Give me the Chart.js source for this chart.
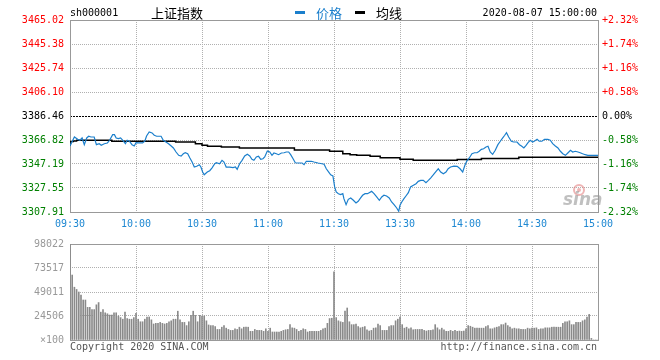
<!DOCTYPE html>
<html lang="zh-CN">
<head>
<meta charset="utf-8">
<title>上证指数 分时</title>
<script src="https://cdn.jsdelivr.net/npm/chart.js@4/dist/chart.umd.min.js"></script>
<style>
  html, body { margin: 0; padding: 0; background: #fff; }
  #wrap { position: relative; width: 660px; height: 360px; overflow: hidden; }
  #priceChart { position: absolute; left: 0; top: 0; }
  #volumeChart { position: absolute; left: 0; top: 232px; }
</style>
</head>
<body>
<div id="wrap">
  <canvas id="priceChart" width="660" height="232"></canvas>
  <canvas id="volumeChart" width="660" height="128"></canvas>
</div>
<script>
// ----------------------------------------------------------
// 数据：上证指数 2020-08-07 分时（分钟序号 0 = 09:30，120 = 11:30/13:00，240 = 15:00）
// ----------------------------------------------------------
const prevClose = 3386.46;

const priceTicks = [3307.91, 3327.55, 3347.19, 3366.82, 3386.46, 3406.10, 3425.74, 3445.38, 3465.02];
const pctLabels = ["-2.32%", "-1.74%", "-1.16%", "-0.58%", "0.00%", "+0.58%", "+1.16%", "+1.74%", "+2.32%"];

const timeTicks = [0, 30, 60, 90, 120, 150, 180, 210, 240];
const timeLabels = ["09:30", "10:00", "10:30", "11:00", "11:30", "13:30", "14:00", "14:30", "15:00"];

const volumeTicks = [0, 24506, 49011, 73517, 98022];

// 价格
const priceMinutes = [
  0, 2, 3.5, 4.5, 5.5, 6.5, 7.6, 8.5, 9.5, 11, 12, 13.3, 14.2, 15.6, 17, 18, 19.4, 20.2, 21, 22,
  23, 24, 25.2, 26, 27, 28.2, 29.2, 30, 31, 33, 34, 34.8, 36, 37.3, 38.3, 39.4, 41.4, 42.4, 43.6, 44.8,
  46, 47, 48.2, 49.4, 50.5, 51.5, 52.4, 53.5, 54.5, 55.5, 56.5, 57.6, 58.8, 59.5, 60.3, 61,
  62.4, 63.5, 64.5, 65.8, 66.5, 68, 69.1, 70, 71, 72.6, 74.1, 75.2, 76, 77.1, 78.2, 79.4, 80.6, 81.7, 82.7, 83.6,
  84.7, 85.7, 86.7, 87.7, 88.5, 89.7, 90.8, 91.8, 92.7, 93.8, 94.8, 96.1, 97.3, 98.3, 99.4, 100.3, 101.4, 102.4, 103.6, 105.5,
  106.4, 107.4, 109.7, 110.9, 112.7, 114.5, 115.5, 116.5, 117.6, 118.5, 119.5, 120.3, 121,
  122, 123, 124, 124.5, 125.5, 126.5, 127.6, 128.8, 130, 131, 132.1, 133, 134.1, 135.2, 136, 137.1, 138.2, 139.4, 140.6, 141.7,
  142.7, 143.9, 145.1, 146.2, 147.3, 148.5, 149.4, 150, 150.8, 151.8, 152.7, 153.8, 154.8, 156.1, 157.3, 158.3, 159.4, 160.6, 161.8, 162.9,
  163.9, 165.2, 166.4, 167.4, 168.5, 169.7, 170.9, 171.9, 173, 174.5, 176, 177.3, 178.5, 179.5, 180.3, 181.5,
  182.7, 183.9, 185, 186, 187, 188, 189.1, 190, 191, 192.1, 193.3, 194.5, 195.6, 196.7, 197.6, 198.4, 199.4, 200.6, 201.7, 203.2,
  204.3, 205.2, 206.3, 207.3, 208.2, 209.2, 210.3, 211.2, 212.3, 213.3, 214.5, 215.7, 217.2, 218.3, 219.4, 220.6, 221.8, 222.9, 224, 225.2,
  226.4, 227.5, 228.5, 229.7, 230.9, 231.9, 233, 234.2, 235.4, 240
];
const priceValues = [
  3362.0, 3369.3, 3367.4, 3366.6, 3368.5, 3363.0, 3368.5, 3369.9, 3369.3, 3369.3, 3363.0, 3363.8, 3362.5, 3363.8, 3364.4, 3366.6, 3371.2, 3371.2, 3368.5, 3367.9,
  3368.5, 3366.6, 3363.8, 3366.6, 3365.8, 3363.0, 3361.9, 3364.6, 3364.4, 3364.4, 3365.8, 3370.1, 3373.4, 3372.6, 3370.7, 3369.9, 3369.9, 3366.6, 3365.2, 3363.8,
  3361.9, 3360.3, 3357.0, 3354.3, 3353.7, 3355.6, 3356.4, 3355.6, 3352.1, 3348.8, 3344.7, 3345.3, 3346.6, 3344.7, 3340.6, 3338.4,
  3340.6, 3341.7, 3343.9, 3347.4, 3348.2, 3347.4, 3350.2, 3348.8, 3344.7, 3344.7, 3344.2, 3344.7, 3342.8, 3347.4, 3350.2, 3353.7, 3355.1, 3353.7, 3351.0, 3350.2,
  3352.9, 3353.5, 3351.0, 3351.5, 3352.9, 3357.8, 3357.0, 3354.3, 3356.2, 3355.6, 3354.8, 3356.2, 3356.4, 3357.0, 3357.0, 3354.8, 3351.5, 3348.2, 3348.0, 3348.0,
  3346.6, 3349.4, 3349.4, 3348.8, 3348.0, 3347.4, 3347.0, 3343.3, 3340.6, 3338.4, 3337.4, 3328.4, 3324.3,
  3322.9, 3322.1, 3322.9, 3318.8, 3313.9, 3318.3, 3319.4, 3317.5, 3315.3, 3316.7, 3319.4, 3321.6, 3322.9, 3322.9, 3323.7, 3324.8, 3322.9, 3320.2, 3317.5, 3320.2,
  3321.6, 3321.0, 3319.4, 3316.1, 3313.9, 3311.2, 3308.5, 3313.4, 3316.1, 3318.8, 3321.0, 3323.7, 3328.4, 3329.8, 3331.1, 3333.0, 3333.8, 3333.8, 3331.9, 3333.8,
  3335.7, 3338.4, 3341.2, 3343.3, 3340.6, 3339.2, 3340.6, 3343.3, 3344.7, 3345.5, 3345.3, 3343.3, 3340.6, 3346.1, 3349.4, 3352.1,
  3355.6, 3356.4, 3356.4, 3357.6, 3359.2, 3359.7, 3361.1, 3361.7, 3357.0, 3355.1, 3358.4, 3363.0, 3365.8, 3368.5, 3370.7, 3372.8, 3369.3, 3365.8, 3365.2, 3365.2,
  3363.0, 3361.9, 3360.3, 3362.5, 3364.6, 3366.6, 3365.2, 3366.0, 3367.4, 3365.8, 3365.8, 3367.4, 3367.4, 3366.6, 3363.8, 3361.9, 3360.3, 3357.6, 3355.6, 3354.3,
  3356.4, 3358.4, 3357.0, 3357.6, 3357.0, 3356.4, 3355.6, 3354.8, 3354.3, 3354.3
];

// 均线（阶梯变化点）
const avgMinutes = [0, 1.5, 3, 19, 48, 57, 60, 62.5, 68.8, 77, 102, 118, 124, 127.3, 130.3, 136.4, 141, 150, 156, 176, 187, 204, 223, 240];
const avgValues = [3362.0, 3365.5, 3366.0, 3366.6, 3365.8, 3365.2, 3363.8, 3362.5, 3361.7, 3361.1, 3360.3, 3358.6, 3357.6, 3355.6, 3354.8, 3354.3, 3353.5, 3352.3, 3351.0, 3350.3, 3350.9, 3351.7, 3352.7, 3352.7];

// 成交量（每分钟一根，单位 手×100）
const volumeValues = [
  98022, 66328, 53912, 51625, 49011, 45744, 40843, 40843, 33327, 33327, 31040, 31040, 35941, 38229, 28426, 31040, 27773, 26793, 25486, 25486,
  27773, 27773, 24506, 22872, 21238, 28426, 21892, 21238, 21238, 22872, 27119, 21238, 18624, 18624, 21238, 23525, 23525, 20585, 16337, 16990,
  16990, 17971, 16990, 16337, 16990, 18624, 19604, 21238, 21238, 29407, 20585, 17971, 17971, 14703, 18624, 25159, 29407, 25159, 18624, 25159,
  24506, 24506, 19604, 15357, 14703, 14703, 13723, 10782, 10782, 13070, 14703, 12089, 10782, 9802, 9802, 11436, 10782, 13070, 11436, 13070,
  13070, 13070, 8822, 8822, 10782, 9802, 9802, 9802, 8822, 11436, 8822, 12089, 8169, 8169, 8169, 8169, 8822, 9802, 10456, 10782,
  15684, 12416, 12089, 10782, 8822, 9802, 11436, 10782, 8169, 8822, 8822, 8822, 8822, 8822, 9802, 11436, 12089, 16990, 21892, 22218,
  69596, 22872, 19604, 18624, 17971, 29407, 32674, 18624, 15684, 15684, 16337, 13723, 12416, 13070, 13723, 10456, 9149, 9802, 12089, 12416,
  16337, 14703, 9802, 9802, 9802, 13723, 14703, 14703, 19604, 21238, 23525, 15684, 12089, 13070, 11436, 12416, 10456, 10782, 10782, 10782,
  10782, 9802, 9149, 9802, 9802, 10456, 15684, 12416, 10456, 12089, 10456, 8822, 8822, 9802, 8822, 9802, 8822, 9149, 8822, 9149,
  11436, 14703, 14050, 13070, 12089, 12089, 12089, 12089, 12089, 13723, 14703, 11436, 11436, 12416, 13070, 13723, 15684, 15684, 17317, 14703,
  13070, 11436, 12089, 11436, 11436, 10782, 10782, 10782, 12089, 11436, 12089, 12089, 12416, 10782, 11436, 11436, 12416, 12416, 12416, 13070,
  13070, 13070, 13070, 13070, 16990, 18624, 18624, 19604, 15684, 15684, 17971, 17971, 17971, 19604, 20585, 23525, 26139, 1634, 0, 0,
  0
];

// ----------------------------------------------------------
// 样式
// ----------------------------------------------------------
const MONO = "'DejaVu Sans Mono', 'Liberation Mono', monospace";
const CJK = "'Noto Sans CJK SC', sans-serif";
const RED = "#ff0000";
const GREEN = "#008000";
const BLUE = "#1b7fcc";
const TIME_BLUE = "#1e88d2";
const GRID_COLOR = "#b0b0b0";
const FRAME_COLOR = "#999999";
const VOL_COLOR = "#8a8a8a";

Chart.defaults.font.family = MONO;
Chart.defaults.font.size = 10;

function isPrevClose(v) {
    return Math.abs(v - prevClose) < 0.001;
}

function priceColor(v) {
    if (isPrevClose(v)) return "#000";
    return v > prevClose ? RED : GREEN;
}

function toPoints(xs, ys) {
    return xs.map((x, i) => ({ x: x, y: ys[i] }));
}

// 外框
const framePlugin = {
    id: "frame",
    beforeDatasetsDraw(chart) {
        const a = chart.chartArea;
        const ctx = chart.ctx;
        ctx.save();
        ctx.strokeStyle = FRAME_COLOR;
        ctx.lineWidth = 1;
        ctx.strokeRect(Math.round(a.left) + 0.5, Math.round(a.top) + 0.5,
            Math.round(a.right - a.left), Math.round(a.bottom - a.top));
        ctx.restore();
    }
};

// 标题、图例、时间、水印
const headerPlugin = {
    id: "header",
    afterDraw(chart) {
        const ctx = chart.ctx;
        const y = 13;
        ctx.save();
        ctx.textBaseline = "middle";

        ctx.fillStyle = "#000";
        ctx.font = "10px " + MONO;
        ctx.textAlign = "left";
        ctx.fillText("sh000001", 70, y);

        ctx.font = "13px " + CJK;
        ctx.fillText("上证指数", 151, y);

        // 图例
        const legendX = [295, 355];
        [0, 1].forEach((i, k) => {
            const ds = chart.data.datasets[i];
            ctx.fillStyle = ds.borderColor;
            ctx.fillRect(legendX[k], y - 2, 10, 3);
            ctx.font = "13px " + CJK;
            ctx.fillText(ds.label, legendX[k] + 21, y);
        });

        ctx.fillStyle = "#000";
        ctx.font = "10px " + MONO;
        ctx.textAlign = "right";
        ctx.fillText("2020-08-07 15:00:00", 597, y);

        // 新浪水印
        ctx.strokeStyle = "rgba(225, 120, 120, 0.55)";
        ctx.lineWidth = 2;
        ctx.beginPath();
        ctx.arc(579, 190, 5, 0, Math.PI * 2);
        ctx.stroke();
        ctx.fillStyle = "rgba(225, 120, 120, 0.55)";
        ctx.beginPath();
        ctx.arc(579, 190, 2, 0, Math.PI * 2);
        ctx.fill();
        ctx.fillStyle = "rgba(150, 150, 150, 0.6)";
        ctx.font = "italic bold 17px 'DejaVu Sans', sans-serif";
        ctx.textAlign = "left";
        ctx.fillText("sina", 563, 201);
        ctx.restore();
    }
};

const footerPlugin = {
    id: "footer",
    afterDraw(chart) {
        const ctx = chart.ctx;
        ctx.save();
        ctx.fillStyle = "#555";
        ctx.font = "10px " + MONO;
        ctx.textBaseline = "middle";
        ctx.textAlign = "left";
        ctx.fillText("Copyright 2020 SINA.COM", 70, 115);
        ctx.textAlign = "right";
        ctx.fillText("http://finance.sina.com.cn", 597, 115);
        ctx.restore();
    }
};

// ----------------------------------------------------------
// 分时价格图
// ----------------------------------------------------------
function renderPriceChart() {
    const ctx = document.getElementById("priceChart").getContext("2d");
    return new Chart(ctx, {
        type: "line",
        data: {
            datasets: [
                {
                    label: "价格",
                    data: toPoints(priceMinutes, priceValues),
                    borderColor: BLUE,
                    borderWidth: 1.2,
                    pointRadius: 0,
                    tension: 0,
                    fill: false
                },
                {
                    label: "均线",
                    data: toPoints(avgMinutes, avgValues),
                    borderColor: "#000",
                    borderWidth: 1.5,
                    pointRadius: 0,
                    stepped: "after",
                    fill: false
                }
            ]
        },
        options: {
            responsive: false,
            animation: false,
            devicePixelRatio: 1,
            layout: { padding: { top: 20, left: 0, right: 0, bottom: 0 } },
            plugins: { legend: { display: false }, tooltip: { enabled: false } },
            scales: {
                x: {
                    type: "linear",
                    min: 0,
                    max: 240,
                    afterBuildTicks: (s) => { s.ticks = timeTicks.map(v => ({ value: v })); },
                    afterFit: (s) => { s.height = 20; },
                    grid: { color: GRID_COLOR, drawTicks: false },
                    border: { display: false, dash: [1, 1] },
                    ticks: {
                        autoSkip: false,
                        maxRotation: 0,
                        padding: 6,
                        color: TIME_BLUE,
                        callback: (v, i) => timeLabels[i]
                    }
                },
                y: {
                    position: "left",
                    min: priceTicks[0],
                    max: priceTicks[priceTicks.length - 1],
                    afterBuildTicks: (s) => { s.ticks = priceTicks.map(v => ({ value: v })); },
                    afterFit: (s) => { s.width = 70; },
                    grid: {
                        drawTicks: false,
                        color: (c) => isPrevClose(c.tick.value) ? "transparent" : GRID_COLOR
                    },
                    border: { display: false, dash: [1, 1] },
                    ticks: {
                        autoSkip: false,
                        padding: 6,
                        color: (c) => priceColor(c.tick.value),
                        callback: (v) => v.toFixed(2)
                    }
                },
                yPct: {
                    position: "right",
                    min: priceTicks[0],
                    max: priceTicks[priceTicks.length - 1],
                    afterBuildTicks: (s) => { s.ticks = priceTicks.map(v => ({ value: v })); },
                    afterFit: (s) => { s.width = 62; },
                    // 昨收线
                    grid: {
                        drawTicks: false,
                        color: (c) => isPrevClose(c.tick.value) ? "#000" : "transparent"
                    },
                    border: { display: false, dash: [2, 1] },
                    ticks: {
                        autoSkip: false,
                        padding: 4,
                        color: (c) => priceColor(c.tick.value),
                        callback: (v, i) => pctLabels[i]
                    }
                }
            }
        },
        plugins: [framePlugin, headerPlugin]
    });
}

// ----------------------------------------------------------
// 成交量图
// ----------------------------------------------------------
function renderVolumeChart() {
    const ctx = document.getElementById("volumeChart").getContext("2d");
    return new Chart(ctx, {
        type: "bar",
        data: {
            datasets: [{
                label: "成交量",
                data: volumeValues.map((v, i) => ({ x: i, y: v })),
                backgroundColor: VOL_COLOR,
                borderWidth: 0,
                barThickness: 1
            }]
        },
        options: {
            responsive: false,
            animation: false,
            devicePixelRatio: 1,
            layout: { padding: { top: 8, left: 0, right: 62, bottom: 0 } },
            plugins: { legend: { display: false }, tooltip: { enabled: false } },
            scales: {
                x: {
                    type: "linear",
                    min: 0,
                    max: 240,
                    offset: false,
                    afterBuildTicks: (s) => { s.ticks = timeTicks.map(v => ({ value: v })); },
                    afterFit: (s) => { s.height = 20; },
                    grid: { color: GRID_COLOR, drawTicks: false, offset: false },
                    border: { display: false, dash: [1, 1] },
                    ticks: { display: false }
                },
                y: {
                    min: 0,
                    max: volumeTicks[volumeTicks.length - 1],
                    afterBuildTicks: (s) => { s.ticks = volumeTicks.map(v => ({ value: v })); },
                    afterFit: (s) => { s.width = 70; },
                    grid: { color: GRID_COLOR, drawTicks: false },
                    border: { display: false, dash: [1, 1] },
                    ticks: {
                        autoSkip: false,
                        padding: 6,
                        color: "#999",
                        callback: (v) => v === 0 ? "×100" : String(v)
                    }
                }
            }
        },
        plugins: [framePlugin, footerPlugin]
    });
}

renderPriceChart();
renderVolumeChart();
</script>
</body>
</html>
